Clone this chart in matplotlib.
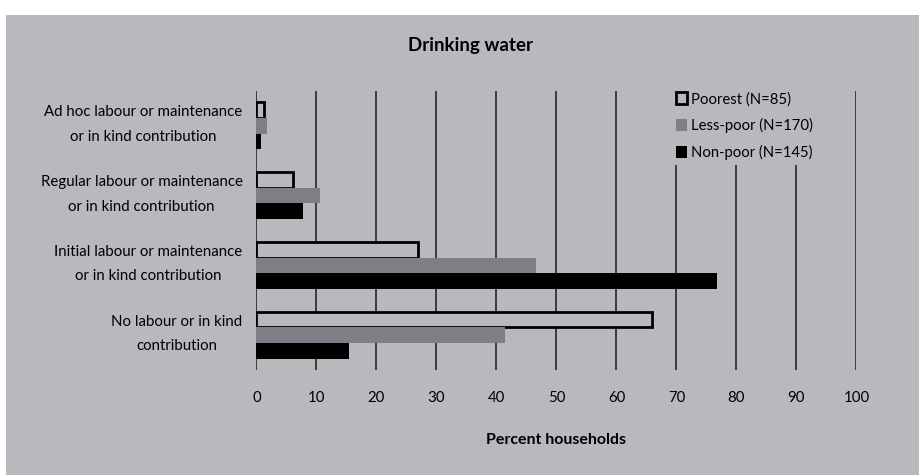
import numpy as np
import matplotlib.pyplot as plt
from matplotlib.patches import Patch, Rectangle

plt.rcParams['font.family'] = ['Lato', 'DejaVu Sans']

# --- data ---
categories = ['Ad hoc labour or maintenance\nor in kind contribution',
              'Regular labour or maintenance\nor in kind contribution',
              'Initial labour or maintenance\nor in kind contribution',
              'No labour or in kind\ncontribution']
poorest = [1.3, 6.1, 27.0, 65.9]
less_poor = [1.7, 10.6, 46.6, 41.5]
non_poor = [0.8, 7.8, 76.8, 15.5]
series_labels = ['Poorest (N=85)', 'Less-poor (N=170)', 'Non-poor (N=145)']
xticks = list(range(0, 101, 10))

bg = '#b8b9bd'
grid_col = '#3c3c3c'

fig = plt.figure(figsize=(9.2, 4.75), dpi=100, facecolor='white')
# grey panel (small white margin at top and left)
fig.patches.append(Rectangle((6 / 920, 0), 1, 1 - 15 / 475, transform=fig.transFigure,
                             facecolor=bg, edgecolor='none', zorder=-10))

ax = fig.add_axes([256.5 / 920, 1 - 370 / 475, 600 / 920, 279 / 475], zorder=1)
ax.set_facecolor('none')

y = np.arange(len(categories))
h = 0.225
ax.barh(y - h, poorest, height=h, color=bg, edgecolor='black', linewidth=2, zorder=3)
ax.barh(y, less_poor, height=h, color='#7e7f84', edgecolor='none', zorder=3)
ax.barh(y + h, non_poor, height=h, color='black', edgecolor='none', zorder=3)

ax.set_xlim(0, 100)
ax.set_ylim(len(categories) - 0.5, -0.5)
ax.set_xticks(xticks)
ax.set_xticklabels([str(t) for t in xticks], fontsize=10.8)
for t in xticks:
    ax.axvline(t, color=grid_col, linewidth=1.4, zorder=1)
# category labels sit a little above the group centre (ticks are hidden)
ax.set_yticks(y - 0.115)
ax.set_yticklabels(categories, fontsize=10.8, ha='right', multialignment='center',
                   linespacing=1.95)
ax.tick_params(axis='y', length=0, pad=10)
ax.tick_params(axis='x', length=0, pad=15)
for s in ax.spines.values():
    s.set_visible(False)

ax.set_xlabel('Percent households', fontsize=11.5, fontweight='bold', labelpad=20.5)
fig.text(471 / 920, 1 - 45 / 475, 'Drinking water', ha='center', va='center',
         fontsize=13.5, fontweight='bold')

handles = [Patch(facecolor=bg, edgecolor='black', linewidth=2),
           Patch(facecolor='#7e7f84', edgecolor='none'),
           Patch(facecolor='black', edgecolor='none')]
leg = fig.legend(handles, series_labels, loc='upper left',
                 bbox_to_anchor=(664 / 920, 1 - 80 / 475), fontsize=10.7,
                 frameon=True, handlelength=0.75, handleheight=0.9,
                 handletextpad=0.3, labelspacing=0.8, borderpad=0.3)
leg.set_zorder(5)
leg.get_frame().set_facecolor(bg)
leg.get_frame().set_edgecolor('none')
leg.get_frame().set_alpha(1)

fig.savefig('out.png', dpi=100, facecolor='white')
